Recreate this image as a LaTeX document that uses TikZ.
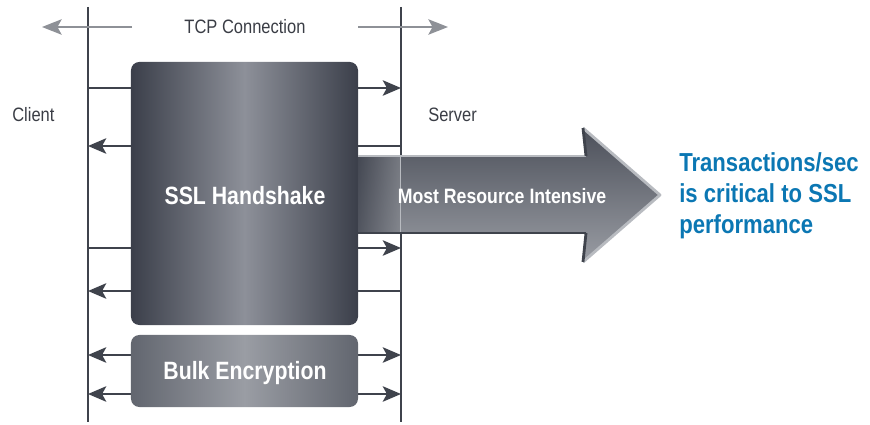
\documentclass[tikz,border=0pt]{standalone}
\usepackage{fontspec}
\setmainfont{Liberation Sans}[FakeStretch=0.85]
\usetikzlibrary{arrows.meta,positioning,calc}
\definecolor{linegray}{HTML}{3F434C}
\definecolor{tcpgray}{HTML}{8E9197}
\definecolor{labelgray}{HTML}{3A3D45}
\definecolor{boxdark}{HTML}{3B3F4A}
\definecolor{boxlight}{HTML}{8D9099}
\definecolor{bulkdark}{HTML}{62666F}
\definecolor{bulklight}{HTML}{9A9DA4}
\definecolor{arrowdark}{HTML}{4C505A}
\definecolor{arrowlight}{HTML}{999CA3}
\definecolor{bevellight}{HTML}{B8BBC0}
\definecolor{textblue}{HTML}{0B77B3}

\begin{document}
\begin{tikzpicture}[x=0.025cm, y=-0.025cm, >=Stealth,
    lifeline/.style={draw=linegray, line width=1.4pt},
    msg/.style={draw=linegray, line width=1.4pt, -{Stealth[length=13pt,width=11pt,inset=3pt]}},
    msgboth/.style={draw=linegray, line width=1.4pt, {Stealth[length=13pt,width=11pt,inset=3pt]}-{Stealth[length=13pt,width=11pt,inset=3pt]}},
    tcparrow/.style={draw=tcpgray, line width=1.1pt, -{Stealth[length=14pt,width=11pt,inset=3pt]}},
    label/.style={text=labelgray, font=\fontsize{13.8}{16}\selectfont, inner sep=0pt},
    stagebox/.style={shade, rounded corners=6pt, minimum width=5.675cm, text=white,
        font=\bfseries\fontsize{17.8}{21}\selectfont}
]
    \useasboundingbox (0,0) rectangle (870,425);

    % Lifelines
    \coordinate (ctop) at (88,7);
    \coordinate (cbot) at (88,422);
    \coordinate (stop) at (401,7);
    \coordinate (sbot) at (401,422);
    \draw[lifeline] (ctop) -- (cbot);
    \draw[lifeline] (stop) -- (sbot);

    % Labels
    \node[label] (tcp) at (245,27) {TCP Connection};
    \node[label, anchor=west] (client) at (12,115) {Client};
    \node[label, anchor=west] (server) at (428,115) {Server};

    % TCP connection arrows
    \coordinate (tcpl0) at (132,27);
    \coordinate (tcpl1) at (42,27);
    \coordinate (tcpr0) at (358,27);
    \coordinate (tcpr1) at (448,27);
    \draw[tcparrow] (tcpl0) -- (tcpl1);
    \draw[tcparrow] (tcpr0) -- (tcpr1);

    % Messages
    \foreach \y/\n in {88/1, 146/2, 248/3, 291/4, 355/5, 394/6} {
        \coordinate (c\n) at (88,\y);
        \coordinate (s\n) at (401,\y);
    }
    \draw[msg] (c1) -- (s1);
    \draw[msg] (s2) -- (c2);
    \draw[msg] (c3) -- (s3);
    \draw[msg] (s4) -- (c4);
    \draw[msgboth] (c5) -- (s5);
    \draw[msgboth] (c6) -- (s6);

    % Stages
    \node[stagebox, minimum height=6.575cm, left color=boxdark, right color=boxdark,
        middle color=boxlight] (handshake) at (244.5,193.5) {};
    \node[text=white, font=\bfseries\fontsize{17.8}{21}\selectfont] (hslabel) at (245,196) {SSL Handshake};
    \node[stagebox, minimum height=1.8cm, left color=bulkdark, right color=bulkdark,
        middle color=bulklight] (bulk) at (244.5,371) {};
    \node[text=white, font=\bfseries\fontsize{17.8}{21}\selectfont] (bulklabel) at (245,373) {Bulk Encryption};

    % Big arrow
    \shade[top color=arrowdark, bottom color=arrowlight]
        (358,156) -- (586,156) -- (583,128) -- (660,195) -- (583,262) -- (586,233) -- (358,233) -- cycle;
    \shade[left color=boxdark, right color=arrowdark!70!white, opacity=0.7] (358,156) rectangle (400,233);
    \draw[bevellight, line width=0.5pt] (400,156) -- (400,233);
    \draw[bevellight, line width=1.5pt] (358,156) -- (586,156);
    \draw[bevellight, line width=2pt, line join=round] (583,128) -- (660,195) -- (583,262);
    \draw[linegray, line width=2pt] (583,128) -- (586,156);
    \draw[linegray, line width=2pt] (586,233) -- (583,262);
    \draw[linegray, line width=1pt] (358,233) -- (586,233);
    \node[text=white, font=\bfseries\fontsize{14.8}{18}\selectfont] (intensive) at (502,196) {Most Resource Intensive};

    % Result
    \node[anchor=west, align=left, inner sep=0pt, text=textblue,
        font=\bfseries\fontsize{18.5}{22}\selectfont] (tps) at (679,196)
        {Transactions/sec\\is critical to SSL\\performance};
\end{tikzpicture}
\end{document}
